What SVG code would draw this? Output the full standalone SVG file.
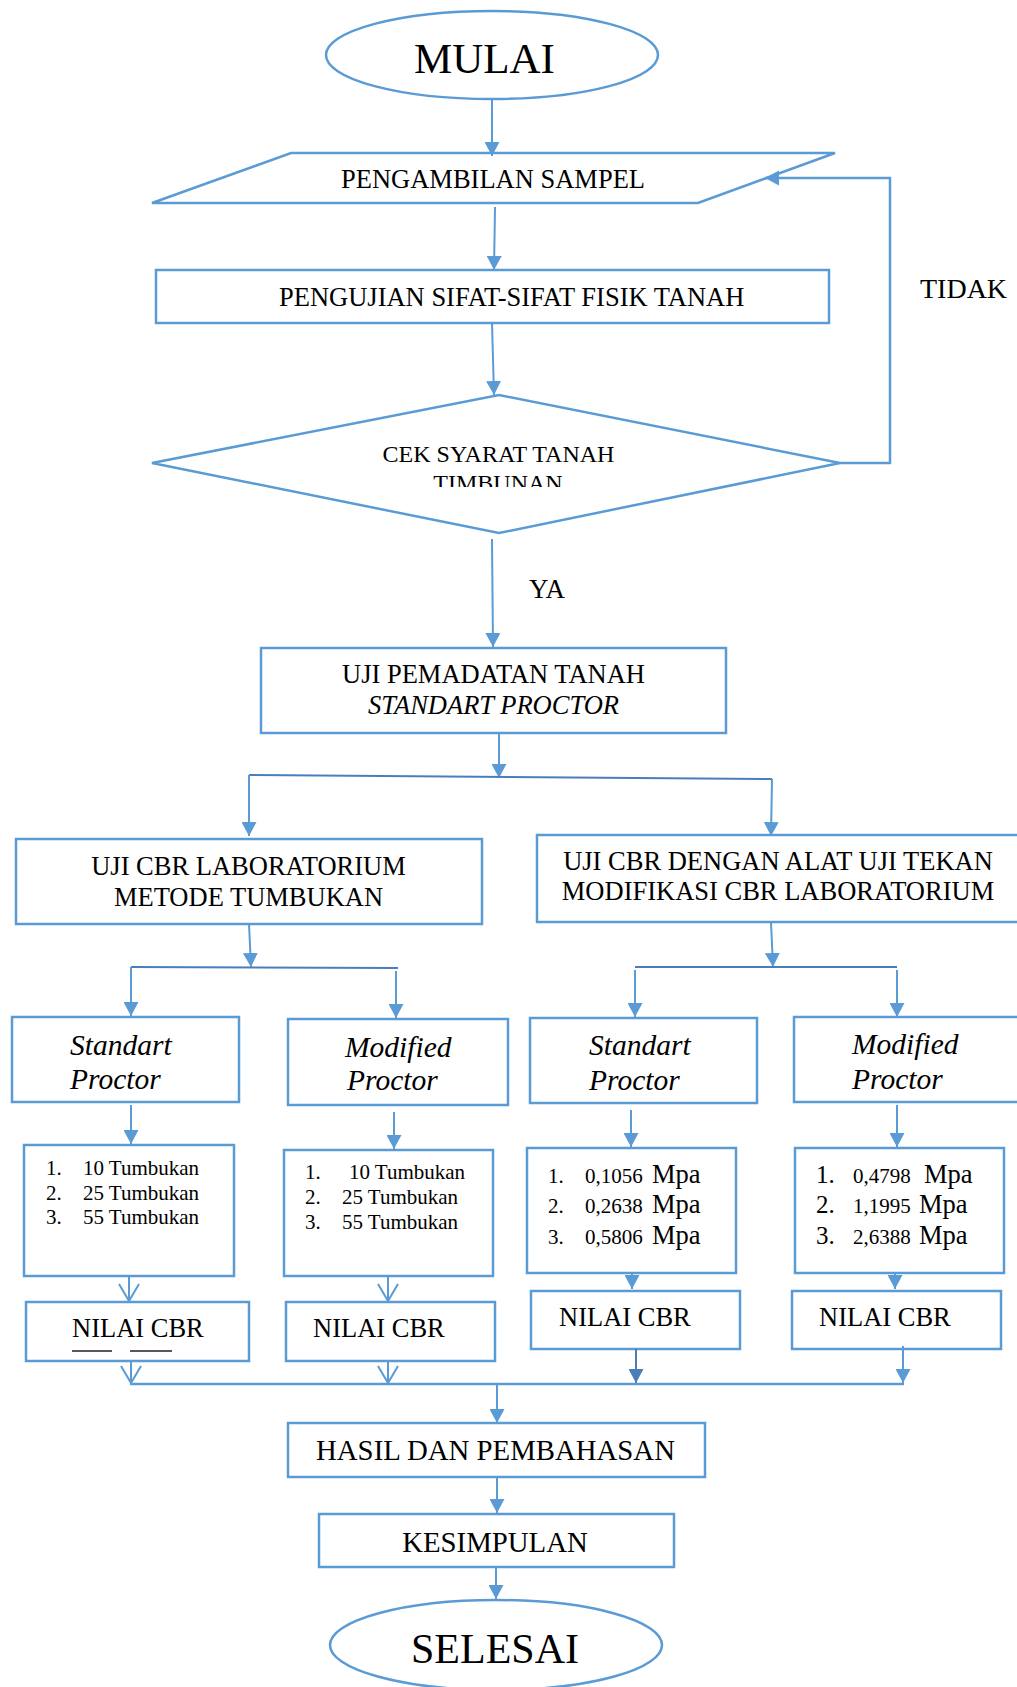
<svg xmlns="http://www.w3.org/2000/svg" width="1017" height="1687" viewBox="0 0 1017 1687">
<style>
.n{fill:#fff;stroke:#5B9BD5;stroke-width:2.5}
.c{fill:none;stroke:#5B9BD5;stroke-width:2}
.d{fill:none;stroke:#4A7EBB;stroke-width:2}
.t{font-family:"Liberation Serif","Times New Roman",serif;font-size:26.5px;fill:#000}
.i{font-style:italic}
.p{font-size:29.5px}
.s{font-size:21px}
.big{font-size:43px}
.h{font-size:28.8px}
.m{text-anchor:middle}
</style>
<defs>
<marker id="a" viewBox="0 0 14 15" refX="14" refY="7.5" markerWidth="14" markerHeight="15" markerUnits="userSpaceOnUse" orient="auto">
<path d="M0,0 L14,7.5 L0,15 z" fill="#5B9BD5"/>
</marker>
<marker id="ad" viewBox="0 0 14 15" refX="14" refY="7.5" markerWidth="14" markerHeight="15" markerUnits="userSpaceOnUse" orient="auto">
<path d="M0,0 L14,7.5 L0,15 z" fill="#4A7EBB"/>
</marker>
<marker id="v" viewBox="-1 -1 19 22" refX="17" refY="10" markerWidth="19" markerHeight="22" markerUnits="userSpaceOnUse" orient="auto">
<path d="M0,0 L17,10 L0,20" fill="none" stroke="#5B9BD5" stroke-width="2"/>
</marker>
<clipPath id="clipT"><rect x="140" y="395" width="720" height="92"/></clipPath>
</defs>

<g id="mulai">
<ellipse class="n" cx="492" cy="55" rx="166" ry="44"/>
<text class="t big" x="414" y="73">MULAI</text>
</g>

<g id="pengambilan">
<polygon class="n" points="291,153 835,153 698,203 152,203"/>
<text class="t" x="341" y="188">PENGAMBILAN SAMPEL</text>
</g>

<g id="pengujian">
<rect class="n" x="156" y="270" width="673" height="53"/>
<text class="t" x="279" y="306">PENGUJIAN SIFAT-SIFAT FISIK TANAH</text>
</g>

<g id="cek">
<polygon class="n" points="152,463 499,395 840,463 499,533"/>
<text class="t m" x="498.5" y="462" style="font-size:24px">CEK SYARAT TANAH</text>
<text class="t m" x="498" y="491" style="font-size:24px" clip-path="url(#clipT)">TIMBUNAN</text>
</g>

<g id="label-tidak"><text class="t" x="920" y="298" style="font-size:28px">TIDAK</text></g>
<g id="label-ya"><text class="t" x="529" y="598" style="font-size:27px">YA</text></g>

<g id="pemadatan">
<rect class="n" x="261" y="648" width="465" height="85"/>
<text class="t m" x="493.5" y="683">UJI PEMADATAN TANAH</text>
<text class="t i m" x="493.5" y="714">STANDART PROCTOR</text>
</g>

<g id="cbr-lab">
<rect class="n" x="16" y="839" width="466" height="85"/>
<text class="t m" x="248.5" y="875">UJI CBR LABORATORIUM</text>
<text class="t m" x="248.5" y="906">METODE TUMBUKAN</text>
</g>

<g id="cbr-tekan">
<rect class="n" x="537" y="835" width="485" height="87"/>
<text class="t m" x="778" y="870">UJI CBR DENGAN ALAT UJI TEKAN</text>
<text class="t m" x="778" y="900">MODIFIKASI CBR LABORATORIUM</text>
</g>

<g id="sp1">
<rect class="n" x="12" y="1017" width="227" height="85"/>
<text class="t i p" x="70" y="1055">Standart</text>
<text class="t i p" x="70" y="1089">Proctor</text>
</g>
<g id="mp1">
<rect class="n" x="288" y="1019" width="220" height="86"/>
<text class="t i p" x="345" y="1057">Modified</text>
<text class="t i p" x="347" y="1090">Proctor</text>
</g>
<g id="sp2">
<rect class="n" x="530" y="1018" width="227" height="85"/>
<text class="t i p" x="589" y="1055">Standart</text>
<text class="t i p" x="589" y="1090">Proctor</text>
</g>
<g id="mp2">
<rect class="n" x="794" y="1017" width="228" height="85"/>
<text class="t i p" x="852" y="1054">Modified</text>
<text class="t i p" x="852" y="1089">Proctor</text>
</g>

<g id="list1">
<rect class="n" x="24" y="1145" width="210" height="131"/>
<text class="t s" x="46" y="1175">1.</text><text class="t s" x="83" y="1175">10 Tumbukan</text>
<text class="t s" x="46" y="1200">2.</text><text class="t s" x="83" y="1200">25 Tumbukan</text>
<text class="t s" x="46" y="1224">3.</text><text class="t s" x="83" y="1224">55 Tumbukan</text>
</g>
<g id="list2">
<rect class="n" x="284" y="1150" width="209" height="126"/>
<text class="t s" x="305" y="1179">1.</text><text class="t s" x="349" y="1179">10 Tumbukan</text>
<text class="t s" x="305" y="1204">2.</text><text class="t s" x="342" y="1204">25 Tumbukan</text>
<text class="t s" x="305" y="1229">3.</text><text class="t s" x="342" y="1229">55 Tumbukan</text>
</g>
<g id="list3">
<rect class="n" x="527" y="1148" width="209" height="125"/>
<text class="t s" x="548" y="1183">1.</text><text class="t s" x="585" y="1183">0,1056</text><text class="t" x="652" y="1183">Mpa</text>
<text class="t s" x="548" y="1213">2.</text><text class="t s" x="585" y="1213">0,2638</text><text class="t" x="652" y="1213">Mpa</text>
<text class="t s" x="548" y="1244">3.</text><text class="t s" x="585" y="1244">0,5806</text><text class="t" x="652" y="1244">Mpa</text>
</g>
<g id="list4">
<rect class="n" x="795" y="1148" width="209" height="125"/>
<text class="t" x="816" y="1183" style="font-size:25px">1.</text><text class="t s" x="853" y="1183">0,4798</text><text class="t" x="924" y="1183">Mpa</text>
<text class="t" x="816" y="1213" style="font-size:25px">2.</text><text class="t s" x="853" y="1213">1,1995</text><text class="t" x="919" y="1213">Mpa</text>
<text class="t" x="816" y="1244" style="font-size:25px">3.</text><text class="t s" x="853" y="1244">2,6388</text><text class="t" x="919" y="1244">Mpa</text>
</g>

<g id="nilai1">
<rect class="n" x="26" y="1302" width="223" height="59"/>
<text class="t" x="72" y="1337">NILAI CBR</text>
<path d="M72,1351 H112 M130,1351 H172" stroke="#222" stroke-width="1.3" fill="none"/>
</g>
<g id="nilai2">
<rect class="n" x="286" y="1302" width="209" height="59"/>
<text class="t" x="313" y="1337">NILAI CBR</text>
</g>
<g id="nilai3">
<rect class="n" x="531" y="1291" width="209" height="58"/>
<text class="t" x="559" y="1326">NILAI CBR</text>
</g>
<g id="nilai4">
<rect class="n" x="792" y="1291" width="209" height="58"/>
<text class="t" x="819" y="1326">NILAI CBR</text>
</g>

<g id="hasil">
<rect class="n" x="288" y="1423" width="417" height="54"/>
<text class="t h m" x="495.5" y="1460">HASIL DAN PEMBAHASAN</text>
</g>
<g id="kesimpulan">
<rect class="n" x="319" y="1514" width="355" height="53"/>
<text class="t h m" x="495" y="1552">KESIMPULAN</text>
</g>
<g id="selesai">
<ellipse class="n" cx="496" cy="1645" rx="166" ry="45"/>
<text class="t m" x="495" y="1663" style="font-size:42px">SELESAI</text>
</g>

<g id="connectors">
<line class="c" x1="492" y1="99" x2="492" y2="156" marker-end="url(#a)"/>
<line class="c" x1="495" y1="207" x2="494" y2="270" marker-end="url(#a)"/>
<line class="c" x1="492" y1="323" x2="494" y2="395" marker-end="url(#a)"/>
<polyline class="c" points="840,463 890,463 890,178 765,178" marker-end="url(#a)" style="stroke-width:2.5"/>
<line class="c" x1="492" y1="539" x2="493" y2="647" marker-end="url(#a)"/>
<line class="c" x1="499" y1="733" x2="499" y2="778" marker-end="url(#a)"/>
<line class="d" x1="249" y1="775" x2="772" y2="779"/>
<line class="c" x1="249" y1="775" x2="249" y2="836" marker-end="url(#a)"/>
<line class="c" x1="772" y1="779" x2="771" y2="836" marker-end="url(#a)"/>
<line class="c" x1="249" y1="924" x2="251" y2="967" marker-end="url(#a)"/>
<line class="d" x1="131" y1="967" x2="398" y2="968"/>
<line class="c" x1="131" y1="967" x2="131" y2="1016" marker-end="url(#a)"/>
<line class="c" x1="396" y1="971" x2="396" y2="1018" marker-end="url(#a)"/>
<line class="c" x1="771" y1="922" x2="773" y2="967" marker-end="url(#a)"/>
<line class="d" x1="635" y1="967" x2="897" y2="967"/>
<line class="c" x1="635" y1="970" x2="635" y2="1017" marker-end="url(#a)"/>
<line class="c" x1="897" y1="970" x2="897" y2="1017" marker-end="url(#a)"/>
<line class="c" x1="131" y1="1105" x2="131" y2="1144" marker-end="url(#a)"/>
<line class="c" x1="394" y1="1112" x2="394" y2="1149" marker-end="url(#a)"/>
<line class="c" x1="631" y1="1110" x2="631" y2="1147" marker-end="url(#a)"/>
<line class="c" x1="897" y1="1105" x2="897" y2="1147" marker-end="url(#a)"/>
<line class="c" x1="129" y1="1276" x2="129" y2="1301" marker-end="url(#v)"/>
<line class="c" x1="388" y1="1276" x2="388" y2="1301" marker-end="url(#v)"/>
<line class="c" x1="632" y1="1274" x2="632" y2="1289" marker-end="url(#a)"/>
<line class="c" x1="895" y1="1274" x2="895" y2="1289" marker-end="url(#a)"/>
<line class="c" x1="131" y1="1361" x2="131" y2="1383" marker-end="url(#v)"/>
<line class="c" x1="388" y1="1361" x2="388" y2="1383" marker-end="url(#v)"/>
<line class="d" x1="636" y1="1349" x2="636" y2="1383" marker-end="url(#ad)"/>
<line class="c" x1="903" y1="1346" x2="903" y2="1383" marker-end="url(#a)"/>
<line class="c" x1="130" y1="1384" x2="904" y2="1384" style="stroke-width:2.5"/>
<line class="c" x1="497" y1="1384" x2="497" y2="1423" marker-end="url(#a)"/>
<line class="c" x1="497" y1="1477" x2="497" y2="1513" marker-end="url(#a)"/>
<line class="c" x1="496" y1="1567" x2="496" y2="1599" marker-end="url(#a)"/>
</g>
</svg>
